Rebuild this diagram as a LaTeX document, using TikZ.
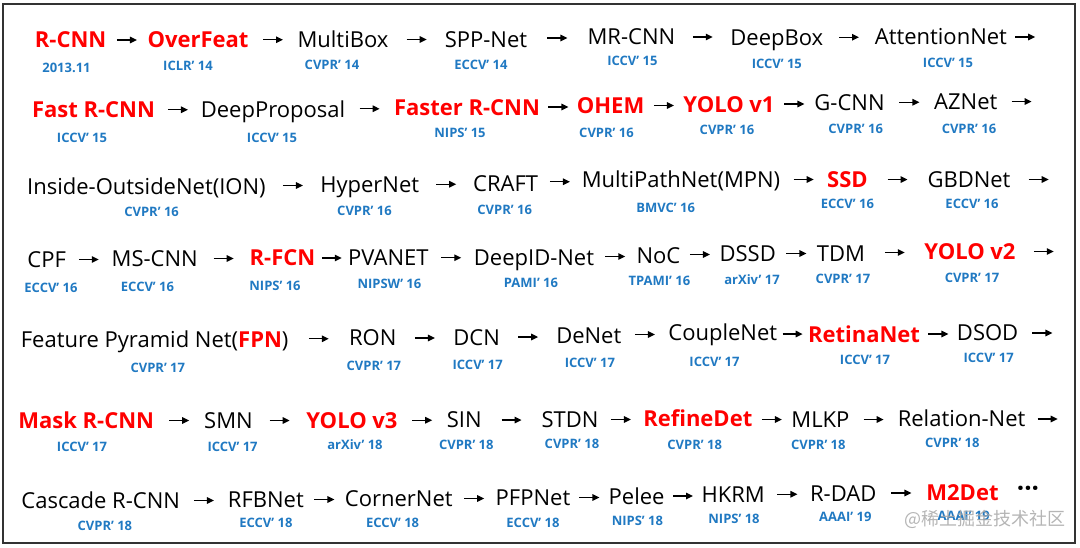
\documentclass[tikz,border=0pt]{standalone}
\usepackage{fontspec}
\setmainfont{Open Sans}
\newfontfamily\cjk{Noto Sans CJK SC}
\usepackage{xcolor}
\usetikzlibrary{arrows.meta, calc}
\definecolor{hotred}{HTML}{FF0000}
\definecolor{venueblue}{HTML}{2079C2}
\definecolor{framegray}{HTML}{333333}
\definecolor{markgray}{HTML}{A8A8A8}
% arrow centred in the gap between two detectors
\newcommand{\link}[2]{\draw[arr] ([xshift=-10pt]$(#1.east)!.5!(#2.west)$) --
  ([xshift=10pt]$(#1.east)!.5!(#2.west)$);}
% arrow at the end of a row, pointing to nothing
\newcommand{\tail}[2]{\coordinate (#1-tip) at ([xshift=#2pt+20pt]#1.east);
  \draw[arr, shorten <=#2pt] (#1) -- (#1-tip);}
\tikzset{
  net/.style={inner sep=0pt, text height=15.7pt, text depth=0pt,
              font=\fontsize{22}{25}\selectfont},
  hot/.style={net, text=hotred, font=\fontsize{22}{25}\selectfont\bfseries},
  venue/.style={inner sep=0pt, text height=9.3pt, text depth=0pt, text=venueblue,
                font=\fontsize{13}{15}\selectfont\bfseries},
  arr/.style={-{Triangle[length=7pt, width=6.5pt]}, line width=1.4pt},
}

\begin{document}
\begin{tikzpicture}[x=1pt, y=-1pt]
\useasboundingbox (0,0) rectangle (1080,547);
\draw[line width=2pt, framegray] (3,4) rectangle (1075,543);
% ---- row 1 ----
\node[hot] (rcnn) at (70.6,40) {R-CNN};
\node[hot] (overfeat) at (198,40) {OverFeat};
\node[net] (multibox) at (343,39.5) {MultiBox};
\node[net] (sppnet) at (486,39.5) {SPP-Net};
\node[net] (mrcnn) at (631.4,36.5) {MR-CNN};
\node[net] (deepbox) at (776.8,37.5) {DeepBox};
\node[net] (attnet) at (940.9,37) {AttentionNet};
\node[venue] (rcnn-v) at (66.5,67.5) {2013.11};
\node[venue] (overfeat-v) at (188,66) {ICLR’ 14};
\node[venue] (multibox-v) at (332,65) {CVPR’ 14};
\node[venue] (sppnet-v) at (481,65) {ECCV’ 14};
\node[venue] (mrcnn-v) at (632.4,60.5) {ICCV’ 15};
\node[venue] (deepbox-v) at (776.8,64) {ICCV’ 15};
\node[venue] (attnet-v) at (948,63) {ICCV’ 15};
\link{rcnn}{overfeat}
\link{overfeat}{multibox}
\link{multibox}{sppnet}
\link{sppnet}{mrcnn}
\link{mrcnn}{deepbox}
\link{deepbox}{attnet}
\tail{attnet}{8}
% ---- row 2 ----
\node[hot] (fastrcnn) at (93.5,110) {Fast R-CNN};
\node[net] (deepprop) at (273,109.5) {DeepProposal};
\node[hot] (fasterrcnn) at (467,108) {Faster R-CNN};
\node[hot] (ohem) at (610.6,106) {OHEM};
\node[hot] (yolov1) at (729,105) {YOLO v1};
\node[net] (gcnn) at (849.5,103) {G-CNN};
\node[net] (aznet) at (965.8,101.5) {AZNet};
\node[venue] (fastrcnn-v) at (82,138) {ICCV’ 15};
\node[venue] (deepprop-v) at (272,138) {ICCV’ 15};
\node[venue] (fasterrcnn-v) at (460,133) {NIPS’ 15};
\node[venue] (ohem-v) at (606.5,133) {CVPR’ 16};
\node[venue] (yolov1-v) at (727,130) {CVPR’ 16};
\node[venue] (gcnn-v) at (855.7,129) {CVPR’ 16};
\node[venue] (aznet-v) at (969,129) {CVPR’ 16};
\link{fastrcnn}{deepprop}
\link{deepprop}{fasterrcnn}
\link{fasterrcnn}{ohem}
\link{ohem}{yolov1}
\link{yolov1}{gcnn}
\link{gcnn}{aznet}
\tail{aznet}{14}
% ---- row 3 ----
\node[net] (ion) at (146.4,186.5) {Inside-OutsideNet(ION)};
\node[net] (hypernet) at (369.7,184.5) {HyperNet};
\node[net] (craft) at (505.7,184) {CRAFT};
\node[net] (mpn) at (681,179.5) {MultiPathNet(MPN)};
\node[hot] (ssd) at (847.4,179.5) {SSD};
\node[net] (gbdnet) at (969,179.5) {GBDNet};
\node[venue] (ion-v) at (151.6,212) {CVPR’ 16};
\node[venue] (hypernet-v) at (364.5,211) {CVPR’ 16};
\node[venue] (craft-v) at (504.7,210) {CVPR’ 16};
\node[venue] (mpn-v) at (665.7,208) {BMVC’ 16};
\node[venue] (ssd-v) at (847.4,204) {ECCV’ 16};
\node[venue] (gbdnet-v) at (972,204) {ECCV’ 16};
\link{ion}{hypernet}
\link{hypernet}{craft}
\link{craft}{mpn}
\link{mpn}{ssd}
\link{ssd}{gbdnet}
\tail{gbdnet}{18}
% ---- row 4 ----
\node[net] (cpf) at (46.7,260) {CPF};
\node[net] (mscnn) at (154.7,259) {MS-CNN};
\node[hot] (rfcn) at (282.5,258) {R-FCN};
\node[net] (pvanet) at (388.4,258) {PVANET};
\node[net] (deepid) at (534,257.5) {DeepID-Net};
\node[net] (noc) at (658.4,255.5) {NoC};
\node[net] (dssd) at (747.7,253.5) {DSSD};
\node[net] (tdm) at (841,253.5) {TDM};
\node[hot] (yolov2) at (970,251.5) {YOLO v2};
\node[venue] (cpf-v) at (51,287.5) {ECCV’ 16};
\node[venue] (mscnn-v) at (147.5,286.5) {ECCV’ 16};
\node[venue] (rfcn-v) at (275,286) {NIPS’ 16};
\node[venue] (pvanet-v) at (389.4,283.5) {NIPSW’ 16};
\node[venue] (deepid-v) at (531,283) {PAMI’ 16};
\node[venue] (noc-v) at (659.4,281) {TPAMI’ 16};
\node[venue] (dssd-v) at (752,280) {arXiv’ 17};
\node[venue] (tdm-v) at (843,279) {CVPR’ 17};
\node[venue] (yolov2-v) at (972,278) {CVPR’ 17};
\link{cpf}{mscnn}
\link{mscnn}{rfcn}
\link{rfcn}{pvanet}
\link{pvanet}{deepid}
\link{deepid}{noc}
\link{noc}{dssd}
\link{dssd}{tdm}
\link{tdm}{yolov2}
\tail{yolov2}{18}
% ---- row 5 ----
\node[net] (fpn) at (154.7,339.5) {Feature Pyramid Net(\textcolor{hotred}{\bfseries FPN})};
\node[net] (ron) at (372.8,338) {RON};
\node[net] (dcn) at (476.7,338) {DCN};
\node[net] (denet) at (588.8,336) {DeNet};
\node[net] (couplenet) at (722.8,333) {CoupleNet};
\node[hot] (retinanet) at (864,335) {RetinaNet};
\node[net] (dsod) at (987.6,333) {DSOD};
\node[venue] (fpn-v) at (157.8,367.5) {CVPR’ 17};
\node[venue] (ron-v) at (373.9,366) {CVPR’ 17};
\node[venue] (dcn-v) at (477.7,365) {ICCV’ 17};
\node[venue] (denet-v) at (589.9,363) {ICCV’ 17};
\node[venue] (couplenet-v) at (714.5,362) {ICCV’ 17};
\node[venue] (retinanet-v) at (865,359.5) {ICCV’ 17};
\node[venue] (dsod-v) at (988.7,358) {ICCV’ 17};
\link{fpn}{ron}
\link{ron}{dcn}
\link{dcn}{denet}
\link{denet}{couplenet}
\link{couplenet}{retinanet}
\link{retinanet}{dsod}
\tail{dsod}{14}
% ---- row 6 ----
\node[hot] (maskrcnn) at (86.2,420.5) {Mask R-CNN};
\node[net] (smn) at (228.5,420.5) {SMN};
\node[hot] (yolov3) at (352,420.5) {YOLO v3};
\node[net] (sin) at (464.2,420) {SIN};
\node[net] (stdn) at (570,420) {STDN};
\node[hot] (refinedet) at (697.8,419) {RefineDet};
\node[net] (mlkp) at (820.4,420) {MLKP};
\node[net] (relnet) at (961.6,419) {Relation-Net};
\node[venue] (maskrcnn-v) at (82,446.5) {ICCV’ 17};
\node[venue] (smn-v) at (232.6,446.5) {ICCV’ 17};
\node[venue] (yolov3-v) at (355,445) {arXiv’ 18};
\node[venue] (sin-v) at (466.3,445) {CVPR’ 18};
\node[venue] (stdn-v) at (572,444) {CVPR’ 18};
\node[venue] (refinedet-v) at (694.7,445) {CVPR’ 18};
\node[venue] (mlkp-v) at (818.3,445) {CVPR’ 18};
\node[venue] (relnet-v) at (952.3,443) {CVPR’ 18};
\link{maskrcnn}{smn}
\link{smn}{yolov3}
\link{yolov3}{sin}
\link{sin}{stdn}
\link{stdn}{refinedet}
\link{refinedet}{mlkp}
\link{mlkp}{relnet}
\tail{relnet}{12}
% ---- row 7 ----
\node[net] (cascade) at (100.7,501) {Cascade R-CNN};
\node[net] (rfbnet) at (265.9,500) {RFBNet};
\node[net] (cornernet) at (398.8,499) {CornerNet};
\node[net] (pfpnet) at (533,498) {PFPNet};
\node[net] (pelee) at (636.6,497) {Pelee};
\node[net] (hkrm) at (733.2,495) {HKRM};
\node[net] (rdad) at (843.2,493.5) {R-DAD};
\node[hot] (m2det) at (962.5,492.5) {M2Det};
\node[net, font=\fontsize{26}{28}\selectfont\bfseries] (more) at (1028,490) {···};
\node[venue] (cascade-v) at (104.9,526) {CVPR’ 18};
\node[venue] (rfbnet-v) at (265.9,523) {ECCV’ 18};
\node[venue] (cornernet-v) at (392.6,522.5) {ECCV’ 18};
\node[venue] (pfpnet-v) at (533,522.5) {ECCV’ 18};
\node[venue] (pelee-v) at (637.4,521) {NIPS’ 18};
\node[venue] (hkrm-v) at (734,519) {NIPS’ 18};
\node[venue] (rdad-v) at (845.3,517) {AAAI’ 19};
\node[venue] (m2det-v) at (963.7,516) {AAAI’ 19};
\link{cascade}{rfbnet}
\link{rfbnet}{cornernet}
\link{cornernet}{pfpnet}
\link{pfpnet}{pelee}
\link{pelee}{hkrm}
\link{hkrm}{rdad}
\link{rdad}{m2det}
% ---- watermark ----
\node[inner sep=0pt, text=markgray, opacity=0.85, font=\cjk\fontsize{18}{20}\selectfont]
  (mark) at (984.7,519) {@稀土掘金技术社区};
\end{tikzpicture}
\end{document}
